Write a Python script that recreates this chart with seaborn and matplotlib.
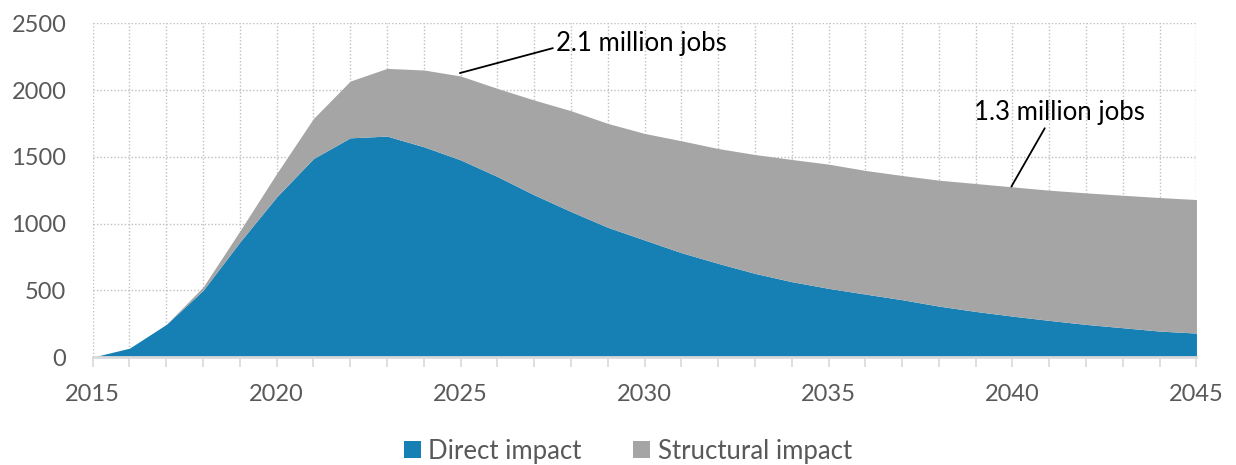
import matplotlib
matplotlib.use("Agg")
import matplotlib.pyplot as plt
import seaborn as sns
import numpy as np
import pandas as pd
from matplotlib.ticker import MultipleLocator, FixedLocator

years = list(range(2015, 2046))
direct = [0, 67, 245, 500, 862, 1200, 1487, 1642, 1655, 1575, 1477,
          1352, 1215, 1090, 972, 877, 782, 702, 627, 565, 515,
          472, 430, 382, 342, 307, 275, 245, 220, 195, 180]
total = [0, 67, 245, 525, 945, 1375, 1787, 2067, 2162, 2150, 2105,
         2012, 1925, 1845, 1750, 1675, 1620, 1562, 1517, 1480, 1445,
         1398, 1360, 1325, 1300, 1275, 1250, 1230, 1212, 1195, 1180]
structural = [t - d for t, d in zip(total, direct)]
series_names = ["Direct impact", "Structural impact"]
y_ticks = [0, 500, 1000, 1500, 2000, 2500]
x_ticks = [2015, 2020, 2025, 2030, 2035, 2040, 2045]
annotations = ["2.1 million jobs", "1.3 million jobs"]

df = pd.DataFrame({"year": years, "Direct impact": direct,
                   "Structural impact": structural})

sns.set_style("white")
plt.rcParams["font.family"] = ["Lato", "DejaVu Sans"]

BLUE = "#1680B5"
GRAY = "#A5A5A5"
TXT = "#595959"

fig = plt.figure(figsize=(12.36, 4.65), dpi=100)
ax = fig.add_axes([0.075, 0.232, 0.893, 0.718])

ax.stackplot(df["year"], df["Direct impact"], df["Structural impact"],
             colors=[BLUE, GRAY], labels=series_names, linewidth=0, zorder=2)

ax.set_xlim(2015, 2045)
ax.set_ylim(0, 2500)
ax.xaxis.set_major_locator(FixedLocator(x_ticks))
ax.xaxis.set_minor_locator(MultipleLocator(1))
ax.yaxis.set_major_locator(FixedLocator(y_ticks))

ax.grid(True, which="both", axis="x", color="#BFBFBF", linestyle=(0, (1, 1.5)), linewidth=1, zorder=0)
ax.grid(True, which="major", axis="y", color="#BFBFBF", linestyle=(0, (1, 1.5)), linewidth=1, zorder=0)
ax.set_axisbelow(True)

for s in ["top", "right", "left"]:
    ax.spines[s].set_visible(False)
ax.spines["bottom"].set_color("#D9D9D9")
ax.spines["bottom"].set_linewidth(2)
ax.spines["bottom"].set_zorder(3)

ax.tick_params(axis="x", which="both", direction="out", length=7, width=1.2,
               color="#D9D9D9", bottom=True)
ax.tick_params(axis="x", which="major", pad=12, labelsize=17, labelcolor=TXT)
ax.tick_params(axis="y", which="both", length=0, pad=19, labelsize=17, labelcolor=TXT)

ax.set_xlabel("")
ax.set_ylabel("")

ax.annotate(annotations[0], xy=(2024.98, 2127), xytext=(2027.6, 2351),
            textcoords="data", fontsize=18.5, color="black", va="center", ha="left",
            arrowprops=dict(arrowstyle="-", color="black", lw=1.3,
                            shrinkA=0, shrinkB=0,
                            relpos=(-0.02, 0.3)), zorder=5)
ax.annotate(annotations[1], xy=(2039.97, 1277), xytext=(2041.28, 1832),
            textcoords="data", fontsize=18.5, color="black", va="center", ha="center",
            arrowprops=dict(arrowstyle="-", color="black", lw=1.3,
                            shrinkA=0, shrinkB=0,
                            relpos=(0.42, -0.05)), zorder=5)

handles, labels = ax.get_legend_handles_labels()
leg = fig.legend(handles, labels, loc="center", bbox_to_anchor=(0.508, 0.03),
                 ncol=2, frameon=False, fontsize=18.5, handlelength=0.65,
                 handleheight=0.65, handletextpad=0.3, columnspacing=2.0)
for t in leg.get_texts():
    t.set_color(TXT)

fig.savefig("out.png", dpi=100)
